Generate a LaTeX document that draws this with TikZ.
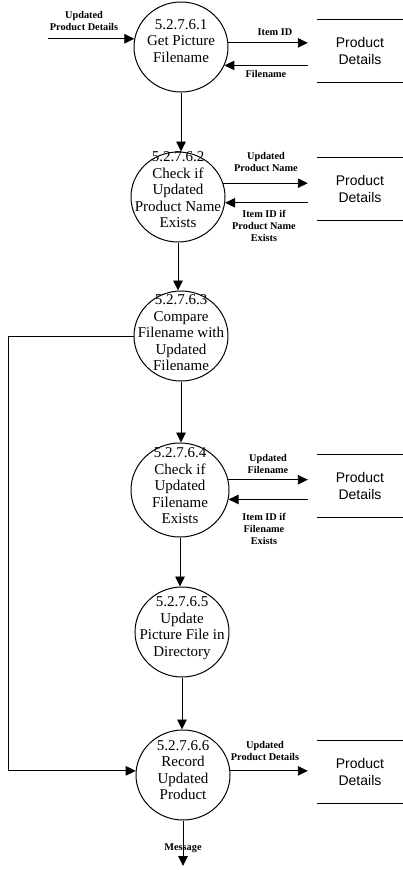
\documentclass[tikz,border=0pt]{standalone}
\usepackage{fontspec}
\setmainfont{Liberation Serif}
\newfontfamily\storefont{Liberation Sans}
\usetikzlibrary{shapes.geometric,arrows.meta,calc}

\begin{document}
\begin{tikzpicture}[x=1pt,y=-1pt,
  proc/.style={draw,ellipse,line width=1pt,minimum width=94pt,minimum height=90pt,inner sep=0pt},
  ptext/.style={align=center,font=\fontsize{15}{16.5}\selectfont,inner sep=0pt},
  flow/.style={draw,line width=0.9pt,-{Triangle[length=10pt,width=9.5pt]}},
  lbl/.style={align=center,font=\bfseries\fontsize{10.3}{11.8}\selectfont,inner sep=0pt},
  storebox/.style={minimum width=86pt,minimum height=62pt,inner sep=0pt,align=center,
    font=\storefont\fontsize{14}{17}\selectfont},
  storeline/.style={line width=1pt}]
\useasboundingbox (0,0) rectangle (403,870);

% processes
\node[proc] (c1) at (181,47) {};
\node[ptext] (c1t) at (181,41) {5.2.7.6.1\\Get Picture\\Filename};
\node[proc] (c2) at (178,197) {};
\node[ptext] (c2t) at (178,190) {5.2.7.6.2\\Check if\\Updated\\Product Name\\Exists};
\node[proc] (c3) at (181,336) {};
\node[ptext] (c3t) at (181,333) {5.2.7.6.3\\Compare\\Filename with\\Updated\\Filename};
\node[proc,minimum width=98pt,minimum height=94pt] (c4) at (180,490) {};
\node[ptext] (c4t) at (180,486) {5.2.7.6.4\\Check if\\Updated\\Filename\\Exists};
\node[proc] (c5) at (182,632) {};
\node[ptext] (c5t) at (182,628) {5.2.7.6.5\\Update\\Picture File in\\Directory};
\node[proc] (c6) at (183,775) {};
\node[ptext] (c6t) at (183,770) {5.2.7.6.6\\Record\\Updated\\Product};

% data stores
\node[storebox] (s1) at (360,51) {Product\\Details};
\node[storebox] (s2) at (360,189) {Product\\Details};
\node[storebox] (s3) at (360,486) {Product\\Details};
\node[storebox] (s4) at (360,772) {Product\\Details};
\foreach \s in {s1,s2,s3,s4}{
  \draw[storeline] (\s.north west) -- (\s.north east);
  \draw[storeline] (\s.south west) -- (\s.south east);
  \coordinate (\s tip) at ([xshift=-9pt]\s.west);
}

% external input
\coordinate (in1) at (48,38);
\draw[flow] (in1 |- c1.170) -- (c1.170);
\node[lbl] (l0) at (84,21) {Updated\\Product Details};

% store exchanges
\draw[flow] (c1.5) -- (c1.5 -| s1tip);
\draw[flow] (c1.-23 -| s1tip) -- (c1.-23);
\node[lbl] (l1) at (275,32) {Item ID};
\node[lbl] (l2) at (266,74) {Filename};

\draw[flow] (c2.17) -- (c2.17 -| s2tip);
\draw[flow] (c2.-7 -| s2tip) -- (c2.-7);
\node[lbl] (l3) at (266,162) {Updated\\Product Name};
\node[lbl] (l4) at (264,226) {Item ID if\\Product Name\\Exists};

\draw[flow] (c4.12) -- (c4.12 -| s3tip);
\draw[flow] (c4.-11 -| s3tip) -- (c4.-11);
\node[lbl] (l5) at (268,464) {Updated\\Filename};
\node[lbl] (l6) at (264,529) {Item ID if\\Filename\\Exists};

\draw[flow] (c6.5) -- (c6.5 -| s4tip);
\node[lbl] (l7) at (265,751) {Updated\\Product Details};

% process sequence, kept vertical
\draw[flow] (c1.south) -- (c1.south |- c2.north);
\draw[flow] (c2.south) -- (c2.south |- c3.north);
\draw[flow] (c3.south) -- (c3.south |- c4.north);
\draw[flow] (c4.south) -- (c4.south |- c5.north);
\draw[flow] (c5.south) -- (c5.south |- c6.north);

% bypass from comparison straight to recording
\coordinate (lx) at (8,0);
\draw[flow] (c3.180) -| (lx |- c6.175) -- (c6.175);

% output
\coordinate (msg) at (183,866);
\draw[flow] (c6.south) -- (c6.south |- msg);
\node[lbl] (l8) at (183,848) {Message};
\end{tikzpicture}
\end{document}
